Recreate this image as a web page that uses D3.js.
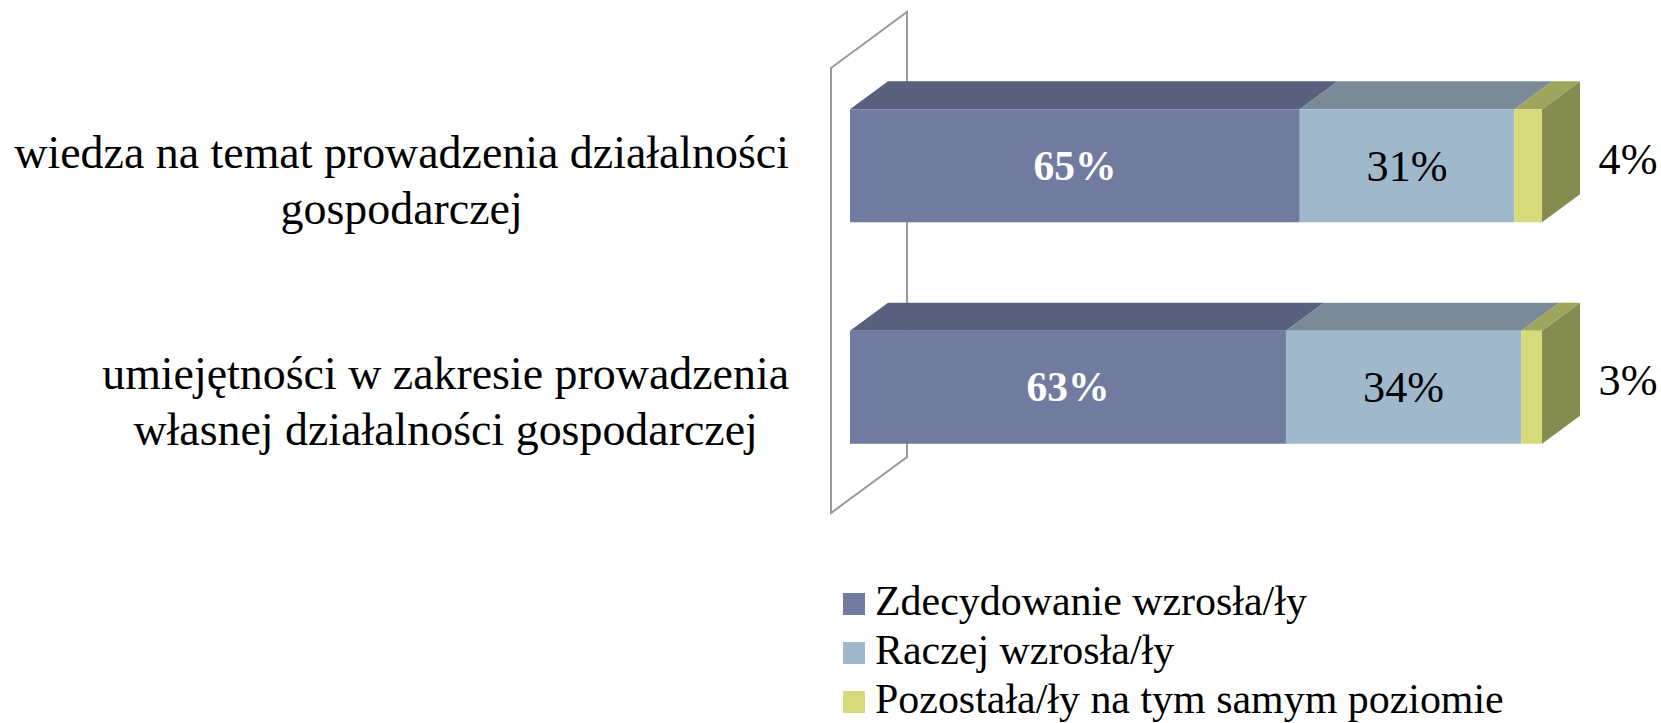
<!DOCTYPE html>
<html>
<head>
<meta charset="utf-8">
<script src="https://cdn.jsdelivr.net/npm/d3@7"></script>
<style>
  body { margin: 0; background: #fff; }
</style>
</head>
<body>
<div id="chart"></div>
<script>
// data
var categories = [
    ["wiedza na temat prowadzenia działalności", "gospodarczej"],
    ["umiejętności w zakresie prowadzenia", "własnej działalności gospodarczej"]
];
var seriesNames = ["Zdecydowanie wzrosła/ły", "Raczej wzrosła/ły", "Pozostała/ły na tym samym poziomie"];
var zdecydowanie = [0.65, 0.63];
var raczej = [0.31, 0.34];
var pozostala = [0.04, 0.03];

var front = ["#717ba0", "#9fb8cc", "#d5db7b"];
var top_ = ["#59607d", "#7a8a99", "#a0a55e"];
var side = ["#474d66", "#627080", "#868c4f"];

var width = 1661, height = 723;
var depth = [76, -56];      // full depth of the 3d box
var d0 = 0.25, d1 = 0.75;   // bars sit in the middle of the depth
var serif = "'Liberation Serif', 'DejaVu Serif', 'Times New Roman', Times, serif";

var svg = d3.select("#chart").append("svg")
    .attr("width", width)
    .attr("height", height)
    .attr("font-family", serif)
    .style("font-family", serif);

var rows = categories.map(function (c, i) {
    return { key: i, z: zdecydowanie[i], r: raczej[i], p: pozostala[i] };
});
var stack = d3.stack().keys(["z", "r", "p"]);
var series = stack(rows);

var x = d3.scaleLinear().domain([0, 1]).range([831, 831 + 692]);
var y = d3.scaleBand().domain(d3.range(categories.length)).range([68, 513])
    .paddingInner(0.49).paddingOuter(0.25);

function pt(v, yy, d) {
    return [x(v) + depth[0] * d, yy + depth[1] * d];
}
function poly(points) {
    return "M" + points.map(function (p) { return p.join(","); }).join("L") + "Z";
}
// font size that makes a sample string as wide as the original (garamond is not here)
function fitSize(str, target, weight) {
    var t = svg.append("text").attr("font-size", 40).attr("font-weight", weight || "normal").text(str);
    var w = t.node().getComputedTextLength();
    t.remove();
    return 40 * target / w;
}

// side wall
svg.append("path")
    .attr("d", poly([pt(0, y.range()[0], 0), pt(0, y.range()[0], 1), pt(0, y.range()[1], 1), pt(0, y.range()[1], 0)]))
    .attr("fill", "none")
    .attr("stroke", "#999")
    .attr("stroke-width", 2);

// bars
series.forEach(function (s, si) {
    var g = svg.append("g").attr("class", "series-" + si);
    s.forEach(function (d, i) {
        var y0 = y(i), y1 = y(i) + y.bandwidth();
        if (si === series.length - 1) {
            g.append("path")
                .attr("d", poly([pt(d[1], y0, d0), pt(d[1], y0, d1), pt(d[1], y1, d1), pt(d[1], y1, d0)]))
                .attr("fill", side[si]);
        }
        g.append("path")
            .attr("d", poly([pt(d[0], y0, d0), pt(d[0], y0, d1), pt(d[1], y0, d1), pt(d[1], y0, d0)]))
            .attr("fill", top_[si]);
        g.append("path")
            .attr("d", poly([pt(d[0], y0, d0), pt(d[1], y0, d0), pt(d[1], y1, d0), pt(d[0], y1, d0)]))
            .attr("fill", front[si]);
    });
});

// value labels
var boldSize = fitSize("65%", 83, "bold");
var valSize = fitSize("34%", 81);
series.forEach(function (s, si) {
    s.forEach(function (d, i) {
        var cy = y(i) + y.bandwidth() / 2 + depth[1] * d0;
        var cx = (x(d[0]) + x(d[1])) / 2 + depth[0] * d0;
        var t = svg.append("text")
            .attr("text-anchor", "middle")
            .attr("dy", "0.34em")
            .text(Math.round((d[1] - d[0]) * 100) + "%");
        if (si === 0) {
            t.attr("x", cx).attr("y", cy).attr("fill", "#fff")
                .attr("font-weight", "bold").attr("font-size", boldSize);
        } else if (si === 1) {
            t.attr("x", cx).attr("y", cy).attr("fill", "#000").attr("font-size", valSize);
        } else {
            t.attr("x", x(d[1]) + depth[0] * d0 + 86).attr("y", cy - 7)
                .attr("fill", "#000").attr("font-size", valSize);
        }
    });
});

// category labels, lines centred in a block right-aligned near the wall
var labelRight = 789, lineH = 56;
var catSize = fitSize(categories[0][0], 775);
categories.forEach(function (lines, i) {
    var g = svg.append("g");
    var cy = y(i) + y.bandwidth() / 2;
    var texts = lines.map(function (l, li) {
        return g.append("text")
            .attr("font-size", catSize)
            .attr("text-anchor", "middle")
            .attr("y", cy + (li - (lines.length - 1) / 2) * lineH)
            .attr("dy", "0.35em")
            .attr("fill", "#000")
            .text(l);
    });
    var maxW = d3.max(texts, function (t) { return t.node().getComputedTextLength(); });
    texts.forEach(function (t) { t.attr("x", labelRight - maxW / 2); });
});

// legend
var legSize = fitSize(seriesNames[0], 432);
var legend = svg.append("g").attr("transform", "translate(843,593)");
seriesNames.forEach(function (n, i) {
    var row = legend.append("g").attr("transform", "translate(0," + (i * 49) + ")");
    row.append("rect").attr("width", 22).attr("height", 22).attr("fill", front[i]);
    row.append("text")
        .attr("x", 32)
        .attr("y", 22)
        .attr("font-size", legSize)
        .attr("fill", "#000")
        .text(n);
});
</script>
</body>
</html>
